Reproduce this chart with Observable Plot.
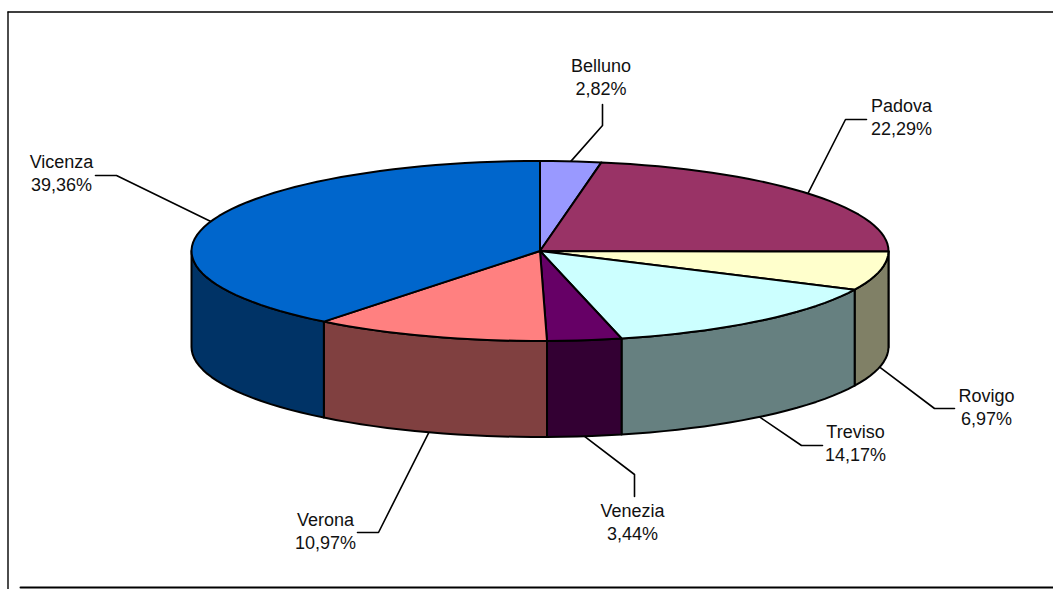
<!DOCTYPE html>
<html>
<head>
<meta charset="utf-8">
<script src="https://cdn.jsdelivr.net/npm/d3@7"></script>
<script src="https://cdn.jsdelivr.net/npm/@observablehq/plot@0.6"></script>
<style>
html,body{margin:0;padding:0;background:#fff;overflow:hidden}
svg{display:block}
</style>
</head>
<body>
<div id="chart"></div>
<script>
// Data
const provinces = ["Belluno","Padova","Rovigo","Treviso","Venezia","Verona","Vicenza"];
const shares = [2.82,22.29,6.97,14.17,3.44,10.97,39.36];
const topColors = ["#9999FF","#993366","#FFFFCC","#CCFFFF","#660066","#FF8080","#0066CC"];
const sideColors = ["#4D4D80","#4D1A33","#808066","#668080","#330033","#804040","#003366"];

// Layout (pixels in the 1053x589 picture)
const W = 1053, H = 589;
const cx = 539.5, cy = 250.5, rx = 348.5, ry = 90, depthPx = 96;
const leaderBends = [[602,125,602,104],[845,119,866,119],[934,408,954,408],[801,445,822,445],[634,474,634,496],[378,532,357,532],[116,175,95,175]];
const labelCenters = [[600.5,76],[901,116],[986,406],[855,442],[632,521],[325,530],[61,172]];

// Pixel <-> data-unit helpers (pie unit: radius = 1)
const ux = px => (px - cx) / rx;
const uy = py => (cy - py) / ry;
const depth = depthPx / ry;
const total = d3.sum(shares);

// slices from the shares
let cum = 0;
const slices = provinces.map((name,i) => {
  const a0 = cum / total * 2 * Math.PI;
  cum += shares[i];
  const a1 = cum / total * 2 * Math.PI;
  return {name, share: shares[i], a0, a1, top: topColors[i], side: sideColors[i], i};
});
const arc = (a0,a1,dz=0) => {
  const n = Math.max(2, Math.ceil(Math.abs(a1-a0)/(2.5*Math.PI/180)));
  return d3.range(n+1).map(k => {
    const a = a0 + (a1-a0)*k/n;
    return {x: Math.sin(a), y: Math.cos(a) - dz};
  });
};
const topPts = [], sidePts = [];
for (const s of slices) {
  const ring = [{x:0,y:0}, ...arc(s.a0,s.a1), {x:0,y:0}];
  ring.forEach(p => topPts.push({...p, name:s.name, color:s.top}));
  const lo = Math.max(s.a0, Math.PI/2), hi = Math.min(s.a1, 3*Math.PI/2);
  if (hi > lo) {
    const upper = arc(lo,hi), lower = arc(lo,hi,depth).reverse();
    [...upper, ...lower, upper[0]].forEach(p => sidePts.push({...p, name:s.name, color:s.side}));
  }
}
// leaders start at the slice's mid-angle on the outer edge
const leaders = [];
slices.forEach((s,i) => {
  const m = (s.a0+s.a1)/2;
  const front = m > Math.PI/2 && m < 3*Math.PI/2;
  const [bx,by,ex,ey] = leaderBends[i];
  [{x:Math.sin(m), y:Math.cos(m)-(front?depth:0)},{x:ux(bx),y:uy(by)},{x:ux(ex),y:uy(ey)}]
    .forEach(p => leaders.push({...p,name:s.name}));
});
const labels = slices.map((s,i) => ({
  x: ux(labelCenters[i][0]), y: uy(labelCenters[i][1]),
  text: `${s.name}\n${s.share.toFixed(2).replace(".",",")}%`
}));
const frameLines = [
  {x:ux(7.5),y:uy(11.5),k:"t"},{x:ux(W),y:uy(11.5),k:"t"},
  {x:ux(7.5),y:uy(11.5),k:"l"},{x:ux(7.5),y:uy(H),k:"l"}
];
const bottomLine = [{x:ux(20),y:uy(587)},{x:ux(W),y:uy(587)}];

const chart = Plot.plot({
  width: W, height: H,
  margin: 0,
  style: {background:"#fff"},
  x: {type:"linear", domain:[ux(0),ux(W)], range:[0,W], axis:null},
  y: {type:"linear", domain:[uy(0),uy(H)], range:[0,H], axis:null},
  marks: [
    Plot.line(frameLines,{x:"x",y:"y",z:"k",stroke:"#000",strokeWidth:1.4}),
    Plot.line(bottomLine,{x:"x",y:"y",stroke:"#000",strokeWidth:2}),
    Plot.line(leaders,{x:"x",y:"y",z:"name",stroke:"#000",strokeWidth:1.6,curve:"linear"}),
    Plot.line(sidePts,{x:"x",y:"y",z:"name",fill:"color",stroke:"#000",strokeWidth:2,curve:"linear",strokeLinejoin:"round"}),
    Plot.line(topPts,{x:"x",y:"y",z:"name",fill:"color",stroke:"#000",strokeWidth:2,curve:"linear",strokeLinejoin:"round"}),
    Plot.text(labels,{x:"x",y:"y",text:"text",textAnchor:"middle",lineAnchor:"middle",lineHeight:1.24,fontSize:18,fontFamily:"'Liberation Sans',Arial,sans-serif",fill:"#111"})
  ]
});
document.getElementById("chart").appendChild(chart);
</script>
</body>
</html>
